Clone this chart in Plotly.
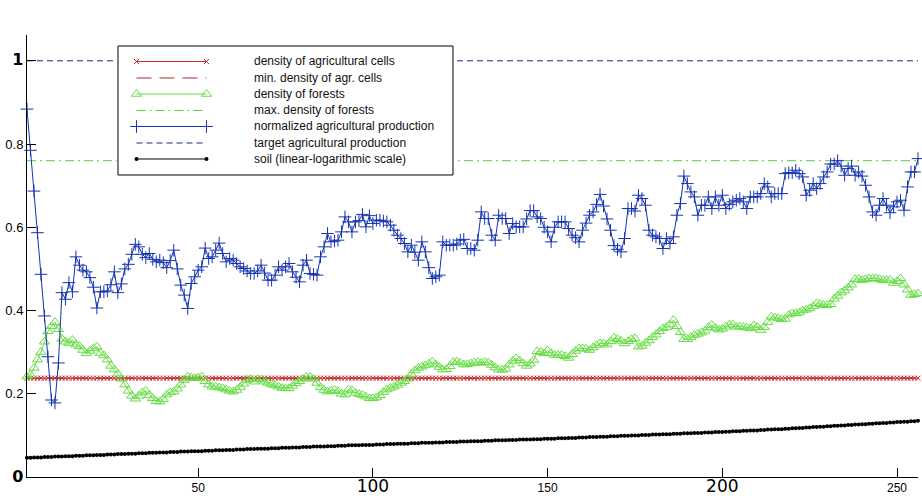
import plotly.graph_objects as go

# time steps of the simulation
steps = list(range(1, 257))

# normalized agricultural production
production = [
    0.884, 0.785, 0.687, 0.587, 0.487, 0.387, 0.289, 0.185, 0.178, 0.274,
    0.443, 0.427, 0.467, 0.445, 0.529, 0.509, 0.497, 0.493, 0.479, 0.456,
    0.406, 0.445, 0.445, 0.447, 0.462, 0.493, 0.443, 0.464, 0.500, 0.511,
    0.535, 0.559, 0.553, 0.535, 0.527, 0.537, 0.523, 0.517, 0.521, 0.515,
    0.503, 0.520, 0.545, 0.500, 0.461, 0.437, 0.405, 0.465, 0.481, 0.497,
    0.505, 0.550, 0.525, 0.529, 0.545, 0.562, 0.537, 0.517, 0.525, 0.521,
    0.513, 0.505, 0.501, 0.495, 0.489, 0.489, 0.495, 0.509, 0.490, 0.473,
    0.473, 0.485, 0.505, 0.497, 0.505, 0.513, 0.493, 0.480, 0.469, 0.509,
    0.521, 0.489, 0.487, 0.485, 0.529, 0.553, 0.585, 0.565, 0.567, 0.569,
    0.589, 0.625, 0.613, 0.589, 0.613, 0.616, 0.631, 0.601, 0.628, 0.609,
    0.617, 0.617, 0.615, 0.613, 0.605, 0.593, 0.581, 0.573, 0.561, 0.541,
    0.557, 0.540, 0.521, 0.565, 0.541, 0.503, 0.477, 0.481, 0.485, 0.565,
    0.557, 0.557, 0.557, 0.560, 0.569, 0.571, 0.549, 0.549, 0.545, 0.569,
    0.637, 0.621, 0.621, 0.581, 0.569, 0.629, 0.621, 0.621, 0.585, 0.609,
    0.601, 0.601, 0.601, 0.620, 0.640, 0.640, 0.625, 0.621, 0.600, 0.589,
    0.565, 0.600, 0.613, 0.613, 0.613, 0.597, 0.581, 0.575, 0.565, 0.593,
    0.610, 0.629, 0.637, 0.655, 0.679, 0.651, 0.620, 0.593, 0.556, 0.547,
    0.541, 0.573, 0.645, 0.645, 0.639, 0.677, 0.669, 0.653, 0.593, 0.581,
    0.577, 0.573, 0.549, 0.573, 0.561, 0.577, 0.629, 0.657, 0.723, 0.705,
    0.685, 0.673, 0.629, 0.653, 0.653, 0.673, 0.645, 0.673, 0.653, 0.677,
    0.645, 0.655, 0.661, 0.665, 0.669, 0.661, 0.645, 0.673, 0.673, 0.673,
    0.681, 0.705, 0.697, 0.673, 0.681, 0.681, 0.681, 0.729, 0.731, 0.731,
    0.737, 0.729, 0.721, 0.677, 0.689, 0.705, 0.693, 0.705, 0.721, 0.733,
    0.752, 0.752, 0.760, 0.747, 0.725, 0.741, 0.747, 0.725, 0.733, 0.723,
    0.701, 0.673, 0.637, 0.629, 0.653, 0.669, 0.653, 0.635, 0.649, 0.661,
    0.665, 0.641, 0.697, 0.733, 0.733, 0.765,
]

# density of forests
forests = [
    0.241, 0.245, 0.262, 0.282, 0.300, 0.325, 0.350, 0.362, 0.372, 0.355,
    0.332, 0.325, 0.322, 0.329, 0.318, 0.314, 0.305, 0.297, 0.303, 0.309,
    0.313, 0.298, 0.292, 0.282, 0.267, 0.258, 0.248, 0.236, 0.222, 0.207,
    0.195, 0.188, 0.195, 0.203, 0.207, 0.197, 0.189, 0.182, 0.181, 0.187,
    0.198, 0.203, 0.205, 0.212, 0.222, 0.233, 0.241, 0.239, 0.237, 0.239,
    0.241, 0.230, 0.222, 0.217, 0.217, 0.215, 0.213, 0.210, 0.207, 0.205,
    0.209, 0.216, 0.224, 0.233, 0.235, 0.229, 0.235, 0.234, 0.229, 0.226,
    0.222, 0.220, 0.217, 0.214, 0.213, 0.213, 0.219, 0.225, 0.230, 0.236,
    0.240, 0.240, 0.236, 0.226, 0.215, 0.209, 0.205, 0.207, 0.209, 0.206,
    0.200, 0.198, 0.210, 0.208, 0.202, 0.199, 0.197, 0.193, 0.189, 0.189,
    0.191, 0.196, 0.204, 0.210, 0.214, 0.217, 0.221, 0.226, 0.230, 0.236,
    0.247, 0.256, 0.262, 0.265, 0.268, 0.272, 0.277, 0.270, 0.264, 0.258,
    0.259, 0.266, 0.276, 0.277, 0.275, 0.270, 0.271, 0.273, 0.275, 0.276,
    0.274, 0.276, 0.275, 0.269, 0.263, 0.258, 0.257, 0.260, 0.270, 0.279,
    0.285, 0.280, 0.273, 0.267, 0.272, 0.281, 0.302, 0.300, 0.297, 0.304,
    0.297, 0.293, 0.293, 0.293, 0.290, 0.286, 0.295, 0.303, 0.309, 0.309,
    0.308, 0.305, 0.311, 0.317, 0.321, 0.321, 0.318, 0.326, 0.334, 0.331,
    0.327, 0.321, 0.326, 0.331, 0.333, 0.313, 0.315, 0.322, 0.328, 0.336,
    0.342, 0.350, 0.357, 0.360, 0.366, 0.377, 0.362, 0.348, 0.331, 0.331,
    0.336, 0.341, 0.344, 0.347, 0.351, 0.360, 0.365, 0.358, 0.354, 0.356,
    0.361, 0.366, 0.366, 0.361, 0.361, 0.361, 0.359, 0.357, 0.364, 0.360,
    0.353, 0.360, 0.372, 0.385, 0.383, 0.381, 0.379, 0.380, 0.390, 0.393,
    0.393, 0.395, 0.400, 0.402, 0.405, 0.410, 0.417, 0.415, 0.413, 0.413,
    0.415, 0.428, 0.435, 0.443, 0.448, 0.455, 0.462, 0.475, 0.476, 0.473,
    0.475, 0.477, 0.477, 0.477, 0.475, 0.473, 0.473, 0.473, 0.466, 0.470,
    0.477, 0.462, 0.450, 0.437, 0.439, 0.441,
]

# soil (linear-logarithmic scale)
soil = [
    0.046, 0.046, 0.047, 0.047, 0.047, 0.048, 0.048, 0.048, 0.049, 0.049,
    0.049, 0.050, 0.050, 0.050, 0.051, 0.051, 0.051, 0.052, 0.052, 0.052,
    0.053, 0.053, 0.053, 0.054, 0.054, 0.054, 0.055, 0.055, 0.055, 0.056,
    0.056, 0.056, 0.057, 0.057, 0.057, 0.058, 0.058, 0.058, 0.059, 0.059,
    0.059, 0.060, 0.060, 0.060, 0.061, 0.061, 0.061, 0.062, 0.062, 0.062,
    0.062, 0.063, 0.063, 0.063, 0.064, 0.064, 0.064, 0.065, 0.065, 0.065,
    0.066, 0.066, 0.066, 0.067, 0.067, 0.067, 0.068, 0.068, 0.068, 0.068,
    0.069, 0.069, 0.069, 0.070, 0.070, 0.070, 0.071, 0.071, 0.071, 0.072,
    0.072, 0.072, 0.073, 0.073, 0.073, 0.073, 0.074, 0.074, 0.074, 0.075,
    0.075, 0.075, 0.076, 0.076, 0.076, 0.076, 0.077, 0.077, 0.077, 0.077,
    0.078, 0.078, 0.078, 0.079, 0.079, 0.079, 0.080, 0.080, 0.080, 0.080,
    0.081, 0.081, 0.081, 0.082, 0.082, 0.082, 0.082, 0.083, 0.083, 0.083,
    0.084, 0.084, 0.084, 0.084, 0.085, 0.085, 0.085, 0.086, 0.086, 0.086,
    0.086, 0.087, 0.087, 0.087, 0.088, 0.088, 0.088, 0.088, 0.089, 0.089,
    0.089, 0.090, 0.090, 0.090, 0.090, 0.091, 0.091, 0.091, 0.092, 0.092,
    0.092, 0.092, 0.093, 0.093, 0.093, 0.094, 0.094, 0.094, 0.095, 0.095,
    0.095, 0.096, 0.096, 0.096, 0.097, 0.097, 0.097, 0.098, 0.098, 0.098,
    0.099, 0.099, 0.099, 0.100, 0.100, 0.100, 0.101, 0.101, 0.101, 0.102,
    0.102, 0.102, 0.103, 0.103, 0.103, 0.104, 0.104, 0.104, 0.105, 0.105,
    0.105, 0.106, 0.106, 0.106, 0.107, 0.107, 0.107, 0.108, 0.108, 0.108,
    0.109, 0.109, 0.110, 0.110, 0.110, 0.111, 0.111, 0.112, 0.112, 0.112,
    0.113, 0.113, 0.114, 0.114, 0.115, 0.115, 0.115, 0.116, 0.116, 0.117,
    0.117, 0.118, 0.118, 0.119, 0.119, 0.120, 0.120, 0.121, 0.121, 0.122,
    0.122, 0.123, 0.123, 0.124, 0.124, 0.125, 0.125, 0.126, 0.126, 0.127,
    0.127, 0.128, 0.128, 0.129, 0.129, 0.130, 0.130, 0.131, 0.131, 0.132,
    0.132, 0.133, 0.133, 0.134, 0.134, 0.135,
]

# constant levels
agri_level = 0.2375      # density of agricultural cells (flat)
agri_min = 0.2375        # min. density of agr. cells
forest_max = 0.76        # max. density of forests
target_prod = 1.0        # target agricultural production
agri_density = [agri_level] * len(steps)

x_ticks = [50, 100, 150, 200, 250]
x_ticktext = [
    "50",
    "<span style='font-family:DejaVu Sans;font-size:17px'>100</span>",
    "150",
    "<span style='font-family:DejaVu Sans;font-size:17px'>200</span>",
    "250",
]
y_ticks = [0, 0.2, 0.4, 0.6, 0.8, 1]
y_ticktext = [
    "<span style='font-family:DejaVu Sans;font-size:16px'><b>0</b></span>",
    "0.2", "0.4", "0.6", "0.8",
    "<span style='font-family:DejaVu Sans;font-size:16px'><b>1</b></span>",
]

legend_labels = [
    "density of agricultural cells",
    "min. density of agr. cells",
    "density of forests",
    "max. density of forests",
    "normalized agricultural production",
    "target agricultural production",
    "soil (linear-logarithmic scale)",
]

RED = "#c62a2a"
DARKRED = "#b02a2a"
GREEN = "#66dd44"
GREEN_DD = "#5ccc3c"
BLUE = "#1533b0"
NAVY = "#102a8a"

# style of each series, in legend order
styles = [
    dict(mode="lines+markers", line=dict(color=RED, width=1),
         marker=dict(symbol="x-thin", size=5, color=RED,
                     line=dict(color=RED, width=1))),
    dict(mode="lines", line=dict(color=DARKRED, width=1, dash="15px,8px")),
    dict(mode="lines+markers", line=dict(color=GREEN, width=1),
         marker=dict(symbol="triangle-up-open", size=9, color=GREEN,
                     line=dict(color=GREEN, width=1))),
    dict(mode="lines", line=dict(color=GREEN_DD, width=1, dash="9px,4px,2px,4px")),
    dict(mode="lines+markers", line=dict(color=BLUE, width=1),
         marker=dict(symbol="cross-thin", size=9, color=BLUE,
                     line=dict(color=BLUE, width=1))),
    dict(mode="lines", line=dict(color=NAVY, width=1, dash="6px,4px")),
    dict(mode="lines+markers", line=dict(color="black", width=1),
         marker=dict(symbol="circle", size=4, color="black")),
]

first, last = steps[0], steps[-1]
series = [
    (steps, agri_density),
    ([first, last], [agri_min, agri_min]),
    (steps, forests),
    ([first, last], [forest_max, forest_max]),
    (steps, production),
    ([first, last], [target_prod, target_prod]),
    (steps, soil),
]

fig = go.Figure()
for (xs, ys), st in zip(series, styles):
    fig.add_trace(go.Scatter(x=xs, y=ys, cliponaxis=False, showlegend=False,
                             hoverinfo="skip", **st))

# hand-made MATLAB style legend box on its own hidden axes (pixel units)
box_w, box_h = 335, 129
fig.add_trace(go.Scatter(x=[0, box_w, box_w, 0, 0], y=[0, 0, box_h, box_h, 0],
                         xaxis="x2", yaxis="y2", mode="lines", fill="toself",
                         fillcolor="white", line=dict(color="black", width=1),
                         showlegend=False, hoverinfo="skip"))
row_y = [113.5, 97.0, 81.0, 64.5, 48.5, 32.0, 16.0]
sample_x = [18.5, 88.5]
for yy, st, label in zip(row_y, styles, legend_labels):
    fig.add_trace(go.Scatter(x=sample_x, y=[yy, yy], xaxis="x2", yaxis="y2",
                             showlegend=False, hoverinfo="skip", **st))
    fig.add_annotation(x=134.5, y=yy, xref="x2", yref="y2", text=label,
                       showarrow=False, xanchor="left", yanchor="middle",
                       font=dict(family="Liberation Sans", size=12, color="#111111"))

fig.update_layout(
    width=922, height=500,
    margin=dict(l=27, r=4, t=35, b=23),
    paper_bgcolor="white", plot_bgcolor="white",
    showlegend=False,
    xaxis=dict(range=[1, 256], tickvals=x_ticks, ticktext=x_ticktext,
               automargin=False,
               showgrid=False, zeroline=False, showline=True, linecolor="black",
               linewidth=1, ticks="inside", ticklen=9, tickcolor="black",
               tickfont=dict(family="Liberation Sans", size=12, color="black")),
    yaxis=dict(range=[0, 1.062], tickvals=y_ticks, ticktext=y_ticktext,
               automargin=False,
               showgrid=False, zeroline=False, showline=True, linecolor="black",
               linewidth=1, ticks="inside", ticklen=9, tickcolor="black",
               tickfont=dict(family="Liberation Sans", size=13, color="black")),
    xaxis2=dict(domain=[0.10101, 0.47924], range=[-1, 336], visible=False,
                fixedrange=True, anchor="y2"),
    yaxis2=dict(domain=[0.68100, 0.97738], range=[-1, 130], visible=False,
                fixedrange=True, anchor="x2"),
)

# the page's default body margin would shift the figure by 8px
fig.write_html("out.html", config={"displayModeBar": False, "staticPlot": True},
               post_script="document.body.style.margin='0';")
